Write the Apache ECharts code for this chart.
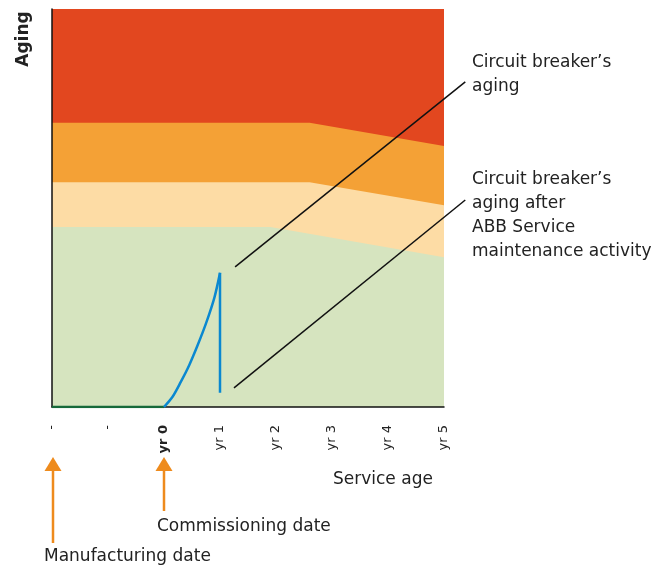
<!DOCTYPE html>
<html><head><meta charset="utf-8">
<script src="https://cdn.jsdelivr.net/npm/echarts@6/dist/echarts.min.js"></script>
<style>html,body{margin:0;padding:0;background:#fff}#c{width:664px;height:569px}</style>
</head><body><div id="c"></div>
<script>
const tickLabels = ['-', '-', 'yr 0', 'yr 1', 'yr 2', 'yr 3', 'yr 4', 'yr 5'];
const redX = [0, 7];              const redY = [100, 100];
const orangeX = [0, 4.6, 7];      const orangeY = [71.4, 71.4, 65.6];
const peachX = [0, 4.6, 7];       const peachY = [56.5, 56.5, 50.7];
const greenX = [0, 3.9, 7];       const greenY = [45.2, 45.2, 37.6];
const preServiceX = [0, 2];       const preServiceY = [0, 0];
const agingX = [2, 2.15, 2.3, 2.45, 2.6, 2.75, 2.9, 3.0];
const agingY = [0, 2.5, 6.3, 10.5, 15.5, 21, 27.5, 33.7];
const maintX = [3, 3];            const maintY = [33.7, 3.6];
const leader1X = [3.27, 7.38];    const leader1Y = [35.2, 81.7];
const leader2X = [3.25, 7.38];    const leader2Y = [4.8, 52.0];

const FONT = 'DejaVu Sans';
const TXT = '#222';
const zip = (xs, ys) => xs.map((x, i) => [x, ys[i]]);

function band(name, xs, ys, color, z) {
  return { name, type: 'line', data: zip(xs, ys), symbol: 'none', z,
    lineStyle: { width: 0 }, areaStyle: { color, opacity: 1 }, silent: true, animation: false };
}
function line(name, xs, ys, color, width, z, extra) {
  return Object.assign({ name, type: 'line', data: zip(xs, ys), symbol: 'none', z,
    lineStyle: { color, width }, silent: true, animation: false }, extra || {});
}

const chart = echarts.init(document.getElementById('c'), null, { renderer: 'canvas' });
chart.setOption({
  animation: false,
  grid: { left: 52, right: 220, top: 9, bottom: 162 },
  xAxis: {
    type: 'value', min: 0, max: 7, interval: 1, z: 10,
    axisLine: { show: true, lineStyle: { color: '#111', width: 1.5 } },
    axisTick: { show: false }, splitLine: { show: false },
    axisLabel: {
      rotate: 90, margin: 18, fontFamily: FONT, fontSize: 13, color: TXT,
      formatter: v => { const s = tickLabels[Math.round(v)]; return s === 'yr 0' ? '{b|' + s + '}' : s; },
      rich: { b: { fontWeight: 'bold', fontFamily: FONT, fontSize: 13, color: TXT } }
    }
  },
  yAxis: {
    type: 'value', min: 0, max: 100, z: 10,
    axisLine: { show: true, lineStyle: { color: '#111', width: 1.5 } },
    axisTick: { show: false }, splitLine: { show: false }, axisLabel: { show: false }
  },
  series: [
    band('red', redX, redY, '#E2471F', 1),
    band('orange', orangeX, orangeY, '#F4A136', 2),
    band('peach', peachX, peachY, '#FDDCA5', 3),
    band('green', greenX, greenY, '#D6E4BF', 4),
    line('pre', preServiceX, preServiceY, '#17693A', 2.5, 20),
    line('aging', agingX, agingY, '#0A88D0', 2.5, 21, { smooth: 0.3 }),
    line('maint', maintX, maintY, '#0A88D0', 2.5, 21)
  ]
});

const px = (x, y) => chart.convertToPixel({ gridIndex: 0 }, [x, y]);
const p0 = px(0, 0);
const p2 = px(2, 0);
const ARROW = '#EE8B1D';
function arrow(x, bottom) {
  return [
    { type: 'polygon', shape: { points: [[x, 457], [x - 8.5, 471], [x + 8.5, 471]] }, style: { fill: ARROW } },
    { type: 'rect', shape: { x: x - 1.25, y: 470, width: 2.5, height: bottom - 470 }, style: { fill: ARROW } }
  ];
}
function leader(xs, ys) {
  const a = px(xs[0], ys[0]), b = px(xs[1], ys[1]);
  return { type: 'line', z: 50, shape: { x1: a[0], y1: a[1], x2: b[0], y2: b[1] },
    style: { stroke: '#111', lineWidth: 1.5 } };
}
function txt(s, x, y, opts) {
  return Object.assign({ type: 'text', x, y,
    style: { text: s, fill: TXT, font: '17px "' + FONT + '"', align: 'left', verticalAlign: 'middle' } }, opts || {});
}
chart.setOption({
  graphic: [].concat(
    arrow(p0[0] + 1, 543),
    arrow(p2[0], 511),
    [
      leader(leader1X, leader1Y),
      leader(leader2X, leader2Y),
      { type: 'text', x: 24, y: 39, rotation: Math.PI / 2,
        style: { text: 'Aging', fill: TXT, font: 'bold 17px "' + FONT + '"', align: 'center', verticalAlign: 'middle' } },
      txt('Circuit breaker\u2019s', 472, 63),
      txt('aging', 472, 87),
      txt('Circuit breaker\u2019s', 472, 180),
      txt('aging after', 472, 204),
      txt('ABB Service', 472, 228),
      txt('maintenance activity', 472, 251.5),
      txt('Service age', 333, 480),
      txt('Commissioning date', 157, 527),
      txt('Manufacturing date', 44, 557)
    ]
  )
});
</script></body></html>
